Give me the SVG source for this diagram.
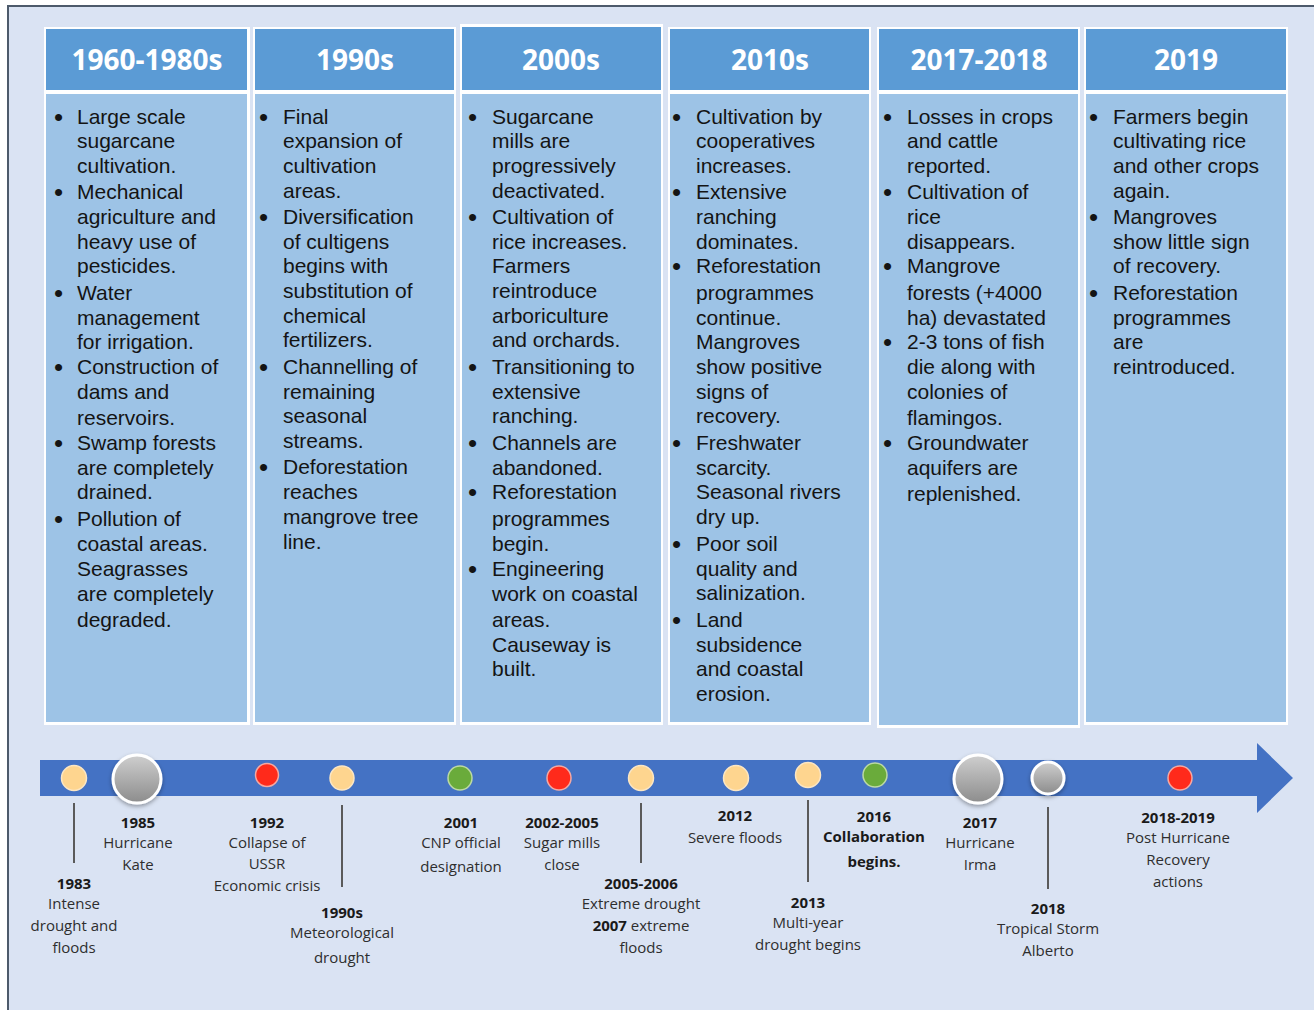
<svg xmlns="http://www.w3.org/2000/svg" width="1314" height="1010" viewBox="0 0 1314 1010">
  <defs>
    <style>
      .frame { fill: #dae3f3; }
      .edge { stroke: #4d5a6b; stroke-width: 2; fill: none; }
      .colbox { fill: #ffffff; }
      .head { fill: #5b9bd5; }
      .body { fill: #9dc3e6; }
      .htxt { font-family: "Open Sans", "Liberation Sans", sans-serif; font-weight: 700; font-size: 28px; fill: #ffffff; text-anchor: middle; }
      .btxt { font-family: "Liberation Sans", Arial, sans-serif; font-size: 21px; fill: #141414; }
      .bul { font-size: 26px; baseline-shift: -2px; }
      .lbl { font-family: "Open Sans", "Liberation Sans", sans-serif; font-size: 15px; fill: #2e2e2e; text-anchor: middle; }
      .yr { font-weight: 700; fill: #1a1a1a; }
      .tick { stroke: #5a5a5a; stroke-width: 2; }
      .dot-y { fill: #fed58f; stroke: #fbe6c4; stroke-width: 1.5; }
      .dot-r { fill: #ff2a1b; stroke: #f4a9a3; stroke-width: 1.5; }
      .dot-g { fill: #6aab3b; stroke: #bcd9a4; stroke-width: 1.5; }
      .dot-k { fill: url(#grey); stroke: #ffffff; stroke-width: 3; filter: url(#shade); }
    </style>
    <linearGradient id="grey" x1="0" y1="0" x2="0" y2="1">
      <stop offset="0" stop-color="#cfcfcf"/>
      <stop offset="1" stop-color="#8c8c8c"/>
    </linearGradient>
    <filter id="shade" x="-30%" y="-30%" width="160%" height="170%">
      <feDropShadow dx="0" dy="2" stdDeviation="2" flood-color="#000000" flood-opacity="0.35"/>
    </filter>
  </defs>

  <!-- page background and frame -->
  <rect x="0" y="0" width="1314" height="1010" fill="#ffffff"/>
  <rect class="frame" x="8" y="6" width="1306" height="1004"/>
  <path class="edge" d="M8,1010 V6 H1314"/>

  <!-- period columns -->
  <g id="col-1960-1980s">
    <rect class="colbox" x="44" y="27" width="206" height="698"/>
    <rect class="head" x="46" y="29" width="201" height="61"/>
    <rect class="body" x="46" y="94" width="201" height="628"/>
    <text class="htxt" x="147" y="70">1960-1980s</text>
    <text class="btxt">
      <tspan class="bul" x="54" y="124">•</tspan><tspan x="77" y="124">Large scale</tspan>
      <tspan x="77" y="148">sugarcane</tspan>
      <tspan x="77" y="173">cultivation.</tspan>
      <tspan class="bul" x="54" y="199">•</tspan><tspan x="77" y="199">Mechanical</tspan>
      <tspan x="77" y="224">agriculture and</tspan>
      <tspan x="77" y="249">heavy use of</tspan>
      <tspan x="77" y="273">pesticides.</tspan>
      <tspan class="bul" x="54" y="300">•</tspan><tspan x="77" y="300">Water</tspan>
      <tspan x="77" y="325">management</tspan>
      <tspan x="77" y="349">for irrigation.</tspan>
      <tspan class="bul" x="54" y="374">•</tspan><tspan x="77" y="374">Construction of</tspan>
      <tspan x="77" y="399">dams and</tspan>
      <tspan x="77" y="425">reservoirs.</tspan>
      <tspan class="bul" x="54" y="450">•</tspan><tspan x="77" y="450">Swamp forests</tspan>
      <tspan x="77" y="475">are completely</tspan>
      <tspan x="77" y="499">drained.</tspan>
      <tspan class="bul" x="54" y="526">•</tspan><tspan x="77" y="526">Pollution of</tspan>
      <tspan x="77" y="551">coastal areas.</tspan>
      <tspan x="77" y="576">Seagrasses</tspan>
      <tspan x="77" y="601">are completely</tspan>
      <tspan x="77" y="627">degraded.</tspan>
    </text>
  </g>

  <g id="col-1990s">
    <rect class="colbox" x="253" y="27" width="203" height="698"/>
    <rect class="head" x="255" y="29" width="199" height="61"/>
    <rect class="body" x="255" y="94" width="199" height="628"/>
    <text class="htxt" x="355" y="70">1990s</text>
    <text class="btxt">
      <tspan class="bul" x="259" y="124">•</tspan><tspan x="283" y="124">Final</tspan>
      <tspan x="283" y="148">expansion of</tspan>
      <tspan x="283" y="173">cultivation</tspan>
      <tspan x="283" y="198">areas.</tspan>
      <tspan class="bul" x="259" y="224">•</tspan><tspan x="283" y="224">Diversification</tspan>
      <tspan x="283" y="249">of cultigens</tspan>
      <tspan x="283" y="273">begins with</tspan>
      <tspan x="283" y="298">substitution of</tspan>
      <tspan x="283" y="323">chemical</tspan>
      <tspan x="283" y="347">fertilizers.</tspan>
      <tspan class="bul" x="259" y="374">•</tspan><tspan x="283" y="374">Channelling of</tspan>
      <tspan x="283" y="399">remaining</tspan>
      <tspan x="283" y="423">seasonal</tspan>
      <tspan x="283" y="448">streams.</tspan>
      <tspan class="bul" x="259" y="474">•</tspan><tspan x="283" y="474">Deforestation</tspan>
      <tspan x="283" y="499">reaches</tspan>
      <tspan x="283" y="524">mangrove tree</tspan>
      <tspan x="283" y="549">line.</tspan>
    </text>
  </g>

  <g id="col-2000s">
    <rect class="colbox" x="460" y="24" width="203" height="701"/>
    <rect class="head" x="462" y="27" width="199" height="63"/>
    <rect class="body" x="462" y="94" width="199" height="628"/>
    <text class="htxt" x="561" y="70">2000s</text>
    <text class="btxt">
      <tspan class="bul" x="468" y="124">•</tspan><tspan x="492" y="124">Sugarcane</tspan>
      <tspan x="492" y="148">mills are</tspan>
      <tspan x="492" y="173">progressively</tspan>
      <tspan x="492" y="198">deactivated.</tspan>
      <tspan class="bul" x="468" y="224">•</tspan><tspan x="492" y="224">Cultivation of</tspan>
      <tspan x="492" y="249">rice increases.</tspan>
      <tspan x="492" y="273">Farmers</tspan>
      <tspan x="492" y="298">reintroduce</tspan>
      <tspan x="492" y="323">arboriculture</tspan>
      <tspan x="492" y="347">and orchards.</tspan>
      <tspan class="bul" x="468" y="374">•</tspan><tspan x="492" y="374">Transitioning to</tspan>
      <tspan x="492" y="399">extensive</tspan>
      <tspan x="492" y="423">ranching.</tspan>
      <tspan class="bul" x="468" y="450">•</tspan><tspan x="492" y="450">Channels are</tspan>
      <tspan x="492" y="475">abandoned.</tspan>
      <tspan class="bul" x="468" y="499">•</tspan><tspan x="492" y="499">Reforestation</tspan>
      <tspan x="492" y="526">programmes</tspan>
      <tspan x="492" y="551">begin.</tspan>
      <tspan class="bul" x="468" y="576">•</tspan><tspan x="492" y="576">Engineering</tspan>
      <tspan x="492" y="601">work on coastal</tspan>
      <tspan x="492" y="627">areas.</tspan>
      <tspan x="492" y="652">Causeway is</tspan>
      <tspan x="492" y="676">built.</tspan>
    </text>
  </g>

  <g id="col-2010s">
    <rect class="colbox" x="668" y="27" width="203" height="698"/>
    <rect class="head" x="670" y="29" width="199" height="61"/>
    <rect class="body" x="670" y="94" width="199" height="628"/>
    <text class="htxt" x="770" y="70">2010s</text>
    <text class="btxt">
      <tspan class="bul" x="672" y="124">•</tspan><tspan x="696" y="124">Cultivation by</tspan>
      <tspan x="696" y="148">cooperatives</tspan>
      <tspan x="696" y="173">increases.</tspan>
      <tspan class="bul" x="672" y="199">•</tspan><tspan x="696" y="199">Extensive</tspan>
      <tspan x="696" y="224">ranching</tspan>
      <tspan x="696" y="249">dominates.</tspan>
      <tspan class="bul" x="672" y="273">•</tspan><tspan x="696" y="273">Reforestation</tspan>
      <tspan x="696" y="300">programmes</tspan>
      <tspan x="696" y="325">continue.</tspan>
      <tspan x="696" y="349">Mangroves</tspan>
      <tspan x="696" y="374">show positive</tspan>
      <tspan x="696" y="399">signs of</tspan>
      <tspan x="696" y="423">recovery.</tspan>
      <tspan class="bul" x="672" y="450">•</tspan><tspan x="696" y="450">Freshwater</tspan>
      <tspan x="696" y="475">scarcity.</tspan>
      <tspan x="696" y="499">Seasonal rivers</tspan>
      <tspan x="696" y="524">dry up.</tspan>
      <tspan class="bul" x="672" y="551">•</tspan><tspan x="696" y="551">Poor soil</tspan>
      <tspan x="696" y="576">quality and</tspan>
      <tspan x="696" y="600">salinization.</tspan>
      <tspan class="bul" x="672" y="627">•</tspan><tspan x="696" y="627">Land</tspan>
      <tspan x="696" y="652">subsidence</tspan>
      <tspan x="696" y="676">and coastal</tspan>
      <tspan x="696" y="701">erosion.</tspan>
    </text>
  </g>

  <g id="col-2017-2018">
    <rect class="colbox" x="877" y="27" width="203" height="701"/>
    <rect class="head" x="879" y="29" width="199" height="61"/>
    <rect class="body" x="879" y="94" width="199" height="631"/>
    <text class="htxt" x="979" y="70">2017-2018</text>
    <text class="btxt">
      <tspan class="bul" x="883" y="124">•</tspan><tspan x="907" y="124">Losses in crops</tspan>
      <tspan x="907" y="148">and cattle</tspan>
      <tspan x="907" y="173">reported.</tspan>
      <tspan class="bul" x="883" y="199">•</tspan><tspan x="907" y="199">Cultivation of</tspan>
      <tspan x="907" y="224">rice</tspan>
      <tspan x="907" y="249">disappears.</tspan>
      <tspan class="bul" x="883" y="273">•</tspan><tspan x="907" y="273">Mangrove</tspan>
      <tspan x="907" y="300">forests (+4000</tspan>
      <tspan x="907" y="325">ha) devastated</tspan>
      <tspan class="bul" x="883" y="349">•</tspan><tspan x="907" y="349">2-3 tons of fish</tspan>
      <tspan x="907" y="374">die along with</tspan>
      <tspan x="907" y="399">colonies of</tspan>
      <tspan x="907" y="425">flamingos.</tspan>
      <tspan class="bul" x="883" y="450">•</tspan><tspan x="907" y="450">Groundwater</tspan>
      <tspan x="907" y="475">aquifers are</tspan>
      <tspan x="907" y="501">replenished.</tspan>
    </text>
  </g>

  <g id="col-2019">
    <rect class="colbox" x="1084" y="27" width="204" height="698"/>
    <rect class="head" x="1086" y="29" width="200" height="61"/>
    <rect class="body" x="1086" y="94" width="200" height="628"/>
    <text class="htxt" x="1186" y="70">2019</text>
    <text class="btxt">
      <tspan class="bul" x="1089" y="124">•</tspan><tspan x="1113" y="124">Farmers begin</tspan>
      <tspan x="1113" y="148">cultivating rice</tspan>
      <tspan x="1113" y="173">and other crops</tspan>
      <tspan x="1113" y="198">again.</tspan>
      <tspan class="bul" x="1089" y="224">•</tspan><tspan x="1113" y="224">Mangroves</tspan>
      <tspan x="1113" y="249">show little sign</tspan>
      <tspan x="1113" y="273">of recovery.</tspan>
      <tspan class="bul" x="1089" y="300">•</tspan><tspan x="1113" y="300">Reforestation</tspan>
      <tspan x="1113" y="325">programmes</tspan>
      <tspan x="1113" y="349">are</tspan>
      <tspan x="1113" y="374">reintroduced.</tspan>
    </text>
  </g>

  <!-- timeline arrow -->
  <g id="timeline">
    <path d="M40,760 H1257 V743 L1293,778 L1257,813 V796 H40 Z" fill="#4472c4"/>
  </g>

  <!-- leader lines from markers to their labels -->
  <g id="connectors">
    <line class="tick" x1="74" y1="803" x2="74" y2="863"/>
    <line class="tick" x1="342" y1="805" x2="342" y2="887"/>
    <line class="tick" x1="641" y1="803" x2="641" y2="863"/>
    <line class="tick" x1="808" y1="800" x2="808" y2="882"/>
    <line class="tick" x1="1048" y1="807" x2="1048" y2="889"/>
  </g>

  <!-- events -->
  <g id="ev-1983">
    <circle class="dot-y" cx="74" cy="778" r="12.5"/>
    <text class="lbl"><tspan class="yr" x="74" y="889">1983</tspan><tspan x="74" y="909">Intense</tspan><tspan x="74" y="931">drought and</tspan><tspan x="74" y="953">floods</tspan></text>
  </g>
  <g id="ev-1985">
    <circle class="dot-k" cx="137" cy="779" r="24"/>
    <text class="lbl"><tspan class="yr" x="138" y="828">1985</tspan><tspan x="138" y="848">Hurricane</tspan><tspan x="138" y="870">Kate</tspan></text>
  </g>
  <g id="ev-1992">
    <circle class="dot-r" cx="267" cy="775" r="11.5"/>
    <text class="lbl"><tspan class="yr" x="267" y="828">1992</tspan><tspan x="267" y="848">Collapse of</tspan><tspan x="267" y="869">USSR</tspan><tspan x="267" y="891">Economic crisis</tspan></text>
  </g>
  <g id="ev-1990s">
    <circle class="dot-y" cx="342" cy="778" r="12"/>
    <text class="lbl"><tspan class="yr" x="342" y="918">1990s</tspan><tspan x="342" y="938">Meteorological</tspan><tspan x="342" y="963">drought</tspan></text>
  </g>
  <g id="ev-2001">
    <circle class="dot-g" cx="460" cy="778" r="12"/>
    <text class="lbl"><tspan class="yr" x="461" y="828">2001</tspan><tspan x="461" y="848">CNP official</tspan><tspan x="461" y="872">designation</tspan></text>
  </g>
  <g id="ev-2002-2005">
    <circle class="dot-r" cx="559" cy="778" r="12"/>
    <text class="lbl"><tspan class="yr" x="562" y="828">2002-2005</tspan><tspan x="562" y="848">Sugar mills</tspan><tspan x="562" y="870">close</tspan></text>
  </g>
  <g id="ev-2005-2006">
    <circle class="dot-y" cx="641" cy="778" r="12.5"/>
    <text class="lbl"><tspan class="yr" x="641" y="889">2005-2006</tspan><tspan x="641" y="909">Extreme drought</tspan><tspan x="641" y="931"><tspan class="yr">2007</tspan> extreme</tspan><tspan x="641" y="953">floods</tspan></text>
  </g>
  <g id="ev-2012">
    <circle class="dot-y" cx="736" cy="778" r="12.5"/>
    <text class="lbl"><tspan class="yr" x="735" y="821">2012</tspan><tspan x="735" y="843">Severe floods</tspan></text>
  </g>
  <g id="ev-2013">
    <circle class="dot-y" cx="808" cy="775" r="12.5"/>
    <text class="lbl"><tspan class="yr" x="808" y="908">2013</tspan><tspan x="808" y="928">Multi-year</tspan><tspan x="808" y="950">drought begins</tspan></text>
  </g>
  <g id="ev-2016">
    <circle class="dot-g" cx="875" cy="775" r="12"/>
    <text class="lbl yr"><tspan x="874" y="822">2016</tspan><tspan x="874" y="842">Collaboration</tspan><tspan x="874" y="867">begins.</tspan></text>
  </g>
  <g id="ev-2017">
    <circle class="dot-k" cx="978" cy="779" r="24"/>
    <text class="lbl"><tspan class="yr" x="980" y="828">2017</tspan><tspan x="980" y="848">Hurricane</tspan><tspan x="980" y="870">Irma</tspan></text>
  </g>
  <g id="ev-2018">
    <circle class="dot-k" cx="1048" cy="778" r="16"/>
    <text class="lbl"><tspan class="yr" x="1048" y="914">2018</tspan><tspan x="1048" y="934">Tropical Storm</tspan><tspan x="1048" y="956">Alberto</tspan></text>
  </g>
  <g id="ev-2018-2019">
    <circle class="dot-r" cx="1180" cy="778" r="12"/>
    <text class="lbl"><tspan class="yr" x="1178" y="823">2018-2019</tspan><tspan x="1178" y="843">Post Hurricane</tspan><tspan x="1178" y="865">Recovery</tspan><tspan x="1178" y="887">actions</tspan></text>
  </g>
</svg>
